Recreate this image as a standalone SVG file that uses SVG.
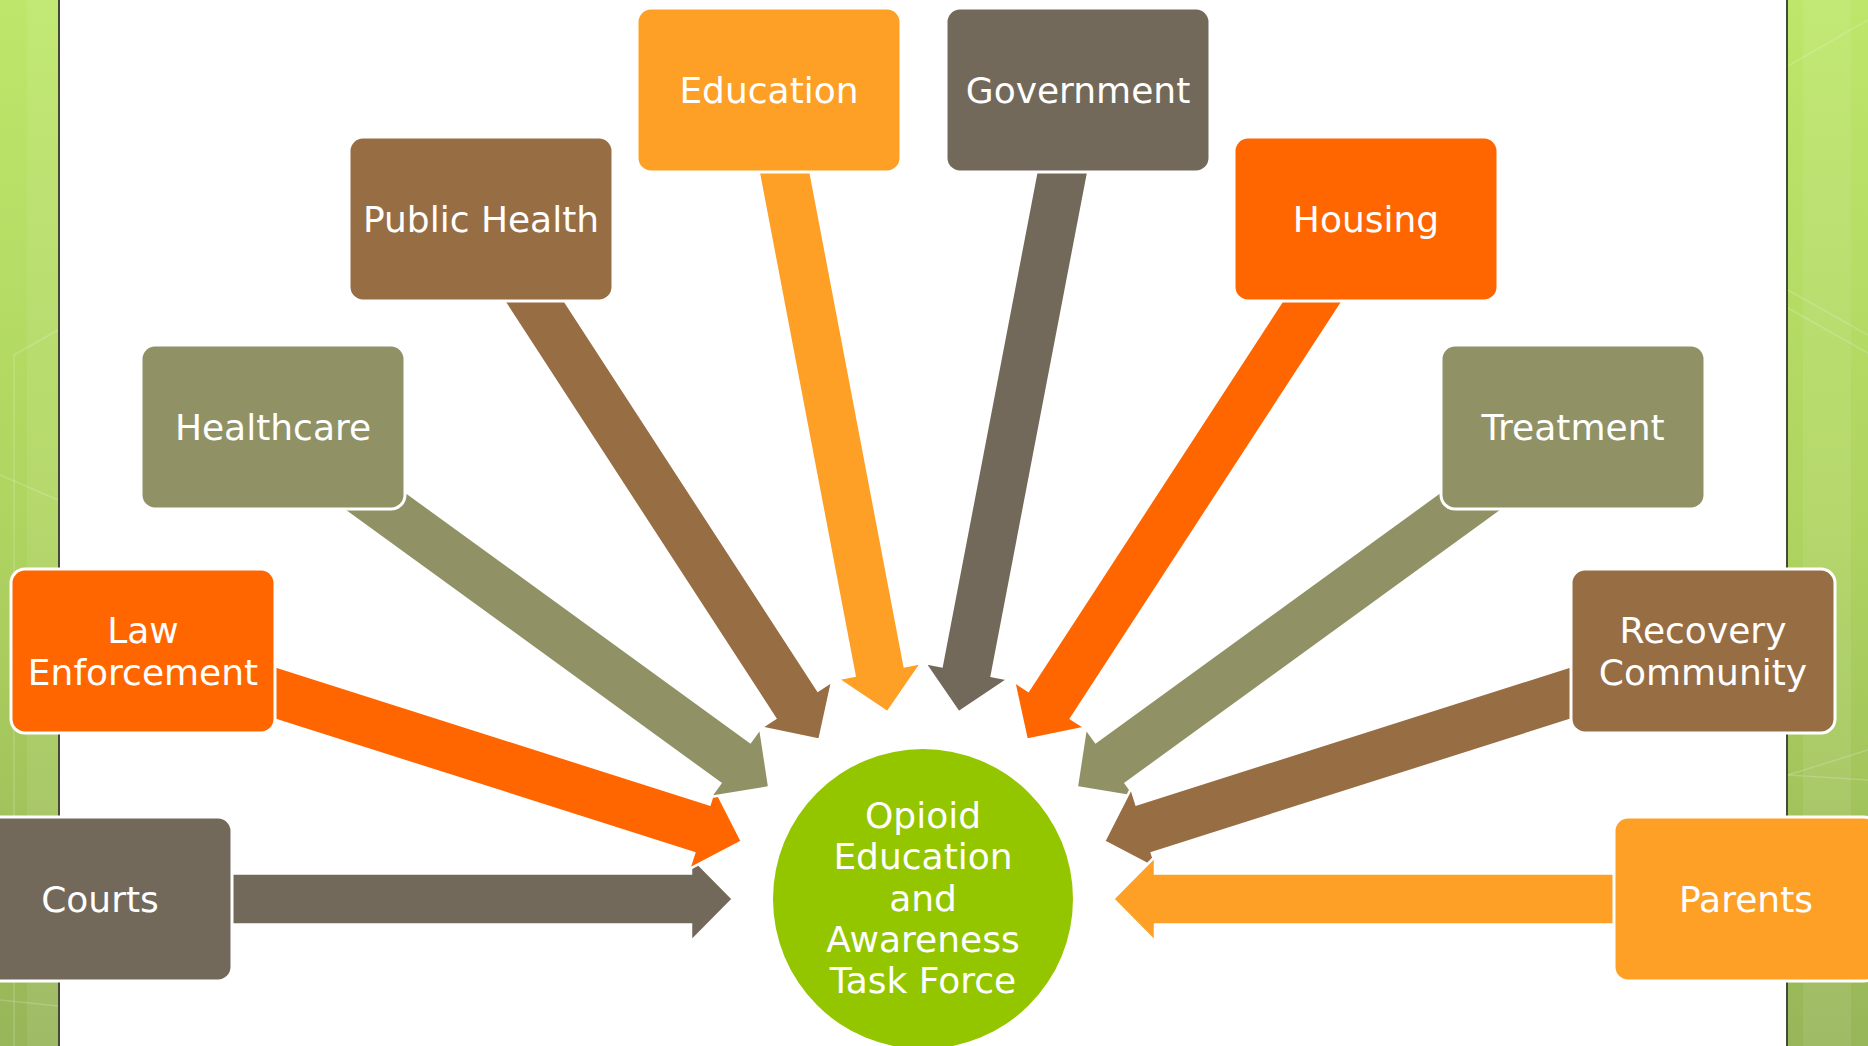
<svg xmlns="http://www.w3.org/2000/svg" xmlns:xlink="http://www.w3.org/1999/xlink" width="1868" height="1046" viewBox="0 0 1868 1046">
  <style>
    .box { stroke: #FFFFFF; stroke-width: 3; }
    .arrow { stroke: #FFFFFF; stroke-width: 2.5; stroke-linejoin: miter; }
    .lbl { font-family: "DejaVu Sans", "Liberation Sans", sans-serif; font-size: 36px; fill: #FFFFFF; text-anchor: middle; }
    .c1 { fill: #73695A; }
    .c2 { fill: #FF6600; }
    .c3 { fill: #909266; }
    .c4 { fill: #976D44; }
    .c5 { fill: #FDA025; }
    .faint { stroke: #FFFFFF; stroke-opacity: 0.18; stroke-width: 1.5; fill: none; }
  </style>
  <defs>
    <linearGradient id="barGrad" x1="0" y1="0" x2="0" y2="1">
      <stop offset="0" stop-color="#BDE66A"/>
      <stop offset="0.5" stop-color="#AFD460"/>
      <stop offset="1" stop-color="#97B659"/>
    </linearGradient>
    <path id="arr" d="M-830,-25.5 H-232 V-42.5 L-190,0 L-232,42.5 V25.5 H-830 Z"/>
  </defs>

  <rect x="0" y="0" width="1868" height="1046" fill="#FFFFFF"/>

  <!-- side bars -->
  <g id="sidebars">
    <rect x="0" y="0" width="58" height="1046" fill="url(#barGrad)"/>
    <rect x="27" y="0" width="31" height="1046" fill="#FFFFFF" fill-opacity="0.08"/>
    <rect x="58" y="0" width="2" height="1046" fill="#454A38"/>
    <rect x="1786" y="0" width="2" height="1046" fill="#454A38"/>
    <rect x="1788" y="0" width="80" height="1046" fill="url(#barGrad)"/>
    <rect x="1803" y="0" width="48" height="1046" fill="#FFFFFF" fill-opacity="0.08"/>
    <path class="faint" d="M14,1046 V355 L58,330"/>
    <path class="faint" d="M0,475 L58,500"/>
    <path class="faint" d="M0,1000 L58,1006"/>
    <path class="faint" d="M1788,66 L1868,20"/>
    <path class="faint" d="M1788,290 L1868,335"/>
    <path class="faint" d="M1788,308 L1868,353"/>
    <path class="faint" d="M1788,775 L1868,750"/>
    <path class="faint" d="M1788,775 L1868,780"/>
  </g>

  <!-- connectors -->
  <g id="connectors">
    <use xlink:href="#arr" class="arrow c1" transform="translate(923 899) rotate(0)"/>
    <use xlink:href="#arr" class="arrow c2" transform="translate(923 899) rotate(17.64)"/>
    <use xlink:href="#arr" class="arrow c3" transform="translate(923 899) rotate(35.99)"/>
    <use xlink:href="#arr" class="arrow c4" transform="translate(923 899) rotate(56.98)"/>
    <use xlink:href="#arr" class="arrow c5" transform="translate(923 899) rotate(79.22)"/>
    <use xlink:href="#arr" class="arrow c1" transform="translate(923 899) rotate(100.85)"/>
    <use xlink:href="#arr" class="arrow c2" transform="translate(923 899) rotate(123.08)"/>
    <use xlink:href="#arr" class="arrow c3" transform="translate(923 899) rotate(144.01)"/>
    <use xlink:href="#arr" class="arrow c4" transform="translate(923 899) rotate(162.36)"/>
    <use xlink:href="#arr" class="arrow c5" transform="translate(923 899) rotate(180)"/>
  </g>

  <!-- nodes -->
  <g id="node-courts">
    <rect class="box c1" x="-32" y="817" width="264" height="164" rx="14"/>
    <text class="lbl" x="100" y="912">Courts</text>
  </g>
  <g id="node-law">
    <rect class="box c2" x="11" y="569" width="264" height="164" rx="14"/>
    <text class="lbl" x="143" y="643">Law</text>
    <text class="lbl" x="143" y="685">Enforcement</text>
  </g>
  <g id="node-healthcare">
    <rect class="box c3" x="141" y="345" width="264" height="164" rx="14"/>
    <text class="lbl" x="273" y="440">Healthcare</text>
  </g>
  <g id="node-publichealth">
    <rect class="box c4" x="349" y="137" width="264" height="164" rx="14"/>
    <text class="lbl" x="481" y="232">Public Health</text>
  </g>
  <g id="node-education">
    <rect class="box c5" x="637" y="8" width="264" height="164" rx="14"/>
    <text class="lbl" x="769" y="103">Education</text>
  </g>
  <g id="node-government">
    <rect class="box c1" x="946" y="8" width="264" height="164" rx="14"/>
    <text class="lbl" x="1078" y="103">Government</text>
  </g>
  <g id="node-housing">
    <rect class="box c2" x="1234" y="137" width="264" height="164" rx="14"/>
    <text class="lbl" x="1366" y="232">Housing</text>
  </g>
  <g id="node-treatment">
    <rect class="box c3" x="1441" y="345" width="264" height="164" rx="14"/>
    <text class="lbl" x="1573" y="440">Treatment</text>
  </g>
  <g id="node-recovery">
    <rect class="box c4" x="1571" y="569" width="264" height="164" rx="14"/>
    <text class="lbl" x="1703" y="643">Recovery</text>
    <text class="lbl" x="1703" y="685">Community</text>
  </g>
  <g id="node-parents">
    <rect class="box c5" x="1614" y="817" width="264" height="164" rx="14"/>
    <text class="lbl" x="1746" y="912">Parents</text>
  </g>
  <g id="node-center">
    <circle cx="923" cy="899" r="150" fill="#94C600"/>
    <text class="lbl" x="923" y="828">Opioid</text>
    <text class="lbl" x="923" y="869">Education</text>
    <text class="lbl" x="923" y="911">and</text>
    <text class="lbl" x="923" y="952">Awareness</text>
    <text class="lbl" x="923" y="993">Task Force</text>
  </g>
</svg>
